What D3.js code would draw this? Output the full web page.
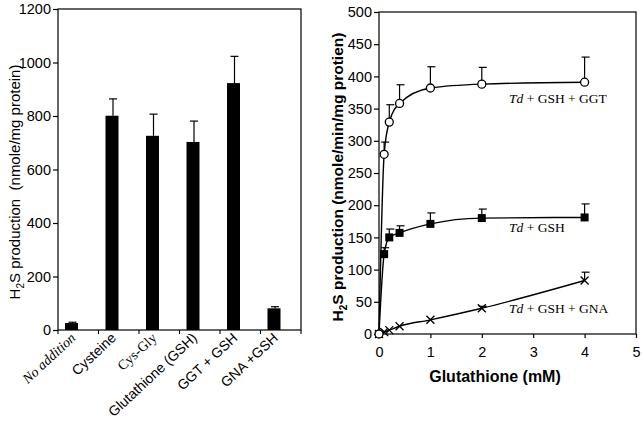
<!DOCTYPE html>
<html><head><meta charset="utf-8">
<script src="https://cdn.jsdelivr.net/npm/d3@7"></script>
<style>body{margin:0;background:#fff}svg{display:block}</style>
</head><body>
<svg id="c" width="644" height="423"></svg>
<script>
// ---- Left panel data ----
const categories = ["No addition","Cysteine","Cys-Gly","Glutathione (GSH)","GGT + GSH","GNA +GSH"];
const barValues  = [26, 801, 726, 703, 923, 81];
const barErrors  = [3, 63, 81, 78, 100, 6];
const leftTicks  = [0,200,400,600,800,1000,1200];
// ---- Right panel data ----
const conc       = [0, 0.1, 0.2, 0.4, 1, 2, 4];
const ggtValues  = [0, 279, 329, 358, 382, 388, 391];
const ggtErrors  = [0, 19, 27, 29, 33, 26, 39];
const gshValues  = [0, 124, 150, 157, 171, 180, 181];
const gshErrors  = [0, 10, 13, 11, 17, 14, 21];
const gnaValues  = [0, 3, 6, 12, 22, 40, 83];
const gnaErrors  = [0, 0, 0, 0, 0, 3, 13];
const rightYTicks = [0,50,100,150,200,250,300,350,400,450,500];
const rightXTicks = [0,1,2,3,4,5];

const svg = d3.select("#c");
const SANS = "'Liberation Sans', Arial, sans-serif";
const SERIF = "'Liberation Serif', 'Times New Roman', serif";
const fmt = d3.format("d");

// ================= LEFT PANEL =================
const L = {x0:58, x1:301, y0:330, y1:9};
const xb = d3.scaleBand().domain(categories).range([L.x0, L.x1]).paddingInner(0).paddingOuter(0);
const yl = d3.scaleLinear().domain([0,1200]).range([L.y0, L.y1]);
const gl = svg.append("g");
const bw = 13, bOff = 7;

gl.append("rect").attr("x",L.x0).attr("y",L.y1).attr("width",L.x1-L.x0).attr("height",L.y0-L.y1)
  .attr("fill","none").attr("stroke","#000").attr("stroke-width",1.2);

const yAxL = d3.axisLeft(yl).tickValues(leftTicks).tickFormat(fmt).tickSize(5).tickSizeOuter(0).tickPadding(2);
gl.append("g").attr("transform",`translate(${L.x0},0)`).call(yAxL)
  .call(g=>{g.select(".domain").remove();
    g.selectAll("line").attr("stroke","#000").attr("stroke-width",1.2);
    g.selectAll("text").attr("font-family",SANS).attr("font-size",14.5).attr("fill","#000");});

const bounds = categories.map(c=>xb(c)).concat([L.x1]);
gl.selectAll(".xt").data(bounds).join("line")
  .attr("x1",d=>d).attr("x2",d=>d).attr("y1",L.y0).attr("y2",L.y0+4)
  .attr("stroke","#000").attr("stroke-width",1.1);

gl.selectAll(".bar").data(categories).join("rect")
  .attr("x",c=>xb(c)+bOff).attr("width",bw)
  .attr("y",(c,i)=>yl(barValues[i])).attr("height",(c,i)=>yl(0)-yl(barValues[i]))
  .attr("fill","#000");
categories.forEach((c,i)=>{
  const cx = xb(c)+bOff+bw/2+1;
  const top = yl(barValues[i]+barErrors[i]);
  gl.append("line").attr("x1",cx).attr("x2",cx).attr("y1",yl(barValues[i])).attr("y2",top)
    .attr("stroke","#000").attr("stroke-width",1.2);
  gl.append("line").attr("x1",cx-4).attr("x2",cx+4).attr("y1",top).attr("y2",top)
    .attr("stroke","#000").attr("stroke-width",1.2);
});
const labStyle = {
  "No addition":{f:SERIF, s:"italic", z:14},
  "Cys-Gly":{f:SERIF, s:"normal", z:14}
};
categories.forEach((c,i)=>{
  const st = labStyle[c] || {f:SANS, s:"normal", z:14};
  const ex = xb(c)+bOff+bw/2+5, ey = L.y0+9;
  gl.append("text").attr("transform",`translate(${ex},${ey}) rotate(-43)`)
    .attr("text-anchor","end").attr("font-family",st.f).attr("font-style",st.s)
    .attr("font-size",st.z).attr("fill","#000").text(c);
});
const tl = gl.append("text").attr("transform",`translate(20,182) rotate(-90)`)
  .attr("text-anchor","middle").attr("font-family",SANS).attr("font-size",15).attr("fill","#000");
tl.append("tspan").text("H");
tl.append("tspan").attr("font-size",10).attr("dy",4).text("2");
tl.append("tspan").attr("dy",-4).text("S production\u00a0\u00a0(nmole/mg protein)");

// ================= RIGHT PANEL =================
const R = {x0:379, x1:636, y0:334, y1:12};
const xr = d3.scaleLinear().domain([0,5]).range([R.x0, R.x1]);
const yr = d3.scaleLinear().domain([0,500]).range([R.y0, R.y1]);
const gr = svg.append("g");

gr.append("rect").attr("x",R.x0).attr("y",R.y1).attr("width",R.x1-R.x0).attr("height",R.y0-R.y1)
  .attr("fill","none").attr("stroke","#000").attr("stroke-width",1.2);

gr.append("g").attr("transform",`translate(${R.x0},0)`)
  .call(d3.axisLeft(yr).tickValues(rightYTicks).tickFormat(fmt).tickSize(5).tickSizeOuter(0).tickPadding(2))
  .call(g=>{g.select(".domain").remove();
    g.selectAll("line").attr("stroke","#000").attr("stroke-width",1.2);
    g.selectAll("text").attr("font-family",SANS).attr("font-size",14.5).attr("fill","#000");});
gr.append("g").attr("transform",`translate(0,${R.y0})`)
  .call(d3.axisBottom(xr).tickValues(rightXTicks).tickFormat(fmt).tickSize(4).tickSizeOuter(0).tickPadding(9))
  .call(g=>{g.select(".domain").remove();
    g.selectAll("line").attr("stroke","#000").attr("stroke-width",1.2);
    g.selectAll("text").attr("font-family",SANS).attr("font-size",14.5).attr("fill","#000");});

const line = d3.line().x(d=>xr(d[0])).y(d=>yr(d[1])).curve(d3.curveMonotoneX);
function series(vals, errs, marker){
  const pts = conc.map((c,i)=>[c, vals[i], errs[i]]);
  gr.append("path").datum(pts).attr("d",line).attr("fill","none")
    .attr("stroke","#000").attr("stroke-width",1.4);
  pts.forEach(p=>{
    if(p[2]>0){
      const x = xr(p[0]), top = yr(p[1]+p[2]);
      gr.append("line").attr("x1",x).attr("x2",x).attr("y1",yr(p[1])).attr("y2",top)
        .attr("stroke","#000").attr("stroke-width",1.2);
      gr.append("line").attr("x1",x-3).attr("x2",x+5).attr("y1",top).attr("y2",top)
        .attr("stroke","#000").attr("stroke-width",1.2);
    }
  });
  pts.forEach(p=>{
    const x = xr(p[0]), y = yr(p[1]);
    if(marker==="circle"){
      gr.append("circle").attr("cx",x).attr("cy",y).attr("r",4)
        .attr("fill","#fff").attr("stroke","#000").attr("stroke-width",1.3);
    } else if(marker==="square"){
      gr.append("rect").attr("x",x-4).attr("y",y-4).attr("width",8).attr("height",8).attr("fill","#000");
    } else {
      gr.append("path").attr("d",`M${x-4},${y-4}L${x+4},${y+4}M${x-4},${y+4}L${x+4},${y-4}`)
        .attr("stroke","#000").attr("stroke-width",1.3);
    }
  });
}
series(gnaValues, gnaErrors, "cross");
series(gshValues, gshErrors, "square");
series(ggtValues, ggtErrors, "circle");

function annot(x,y,rest){
  const t = gr.append("text").attr("x",x).attr("y",y).attr("font-family",SERIF)
    .attr("font-size",13.5).attr("fill","#000");
  t.append("tspan").attr("font-style","italic").text("Td");
  t.append("tspan").text(rest);
}
annot(509,103," + GSH + GGT");
annot(509,232," + GSH");
annot(509,313," + GSH + GNA");

gr.append("text").attr("x",495).attr("y",382).attr("text-anchor","middle")
  .attr("font-family",SANS).attr("font-weight","bold").attr("font-size",16).attr("fill","#000")
  .text("Glutathione (mM)");
const tr = gr.append("text").attr("transform",`translate(343,177) rotate(-90)`)
  .attr("text-anchor","middle").attr("font-family",SANS).attr("font-weight","bold")
  .attr("font-size",15.5).attr("fill","#000");
tr.append("tspan").text("H");
tr.append("tspan").attr("font-size",10).attr("dy",4).text("2");
tr.append("tspan").attr("dy",-4).text("S production (nmole/min/mg protien)");
</script>
</body></html>
